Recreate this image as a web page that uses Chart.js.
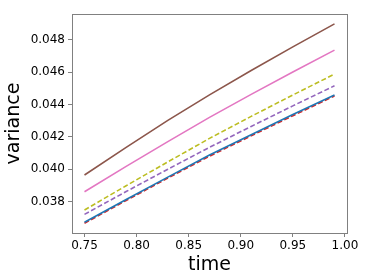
<!DOCTYPE html>
<html>
<head>
<meta charset="utf-8">
<script src="https://cdn.jsdelivr.net/npm/chart.js@4.4.0/dist/chart.umd.min.js"></script>
<style>
  body { margin: 0; background: #fff; }
</style>
</head>
<body>
<canvas id="chart" width="374" height="280"></canvas>
<script>
var times = [0.75, 0.79, 0.83, 0.87, 0.91, 0.95, 0.99];

var blueVals   = [0.03673, 0.03814, 0.03952, 0.04088, 0.04214, 0.04338, 0.04459];
var redVals    = [0.03667, 0.03808, 0.03946, 0.04081, 0.04207, 0.04331, 0.04453];
var purpleVals = [0.03722, 0.03863, 0.04001, 0.04136, 0.04265, 0.04392, 0.04516];
var oliveVals  = [0.03749, 0.03899, 0.04046, 0.04191, 0.04327, 0.04459, 0.04588];
var pinkVals   = [0.03862, 0.04018, 0.04171, 0.04321, 0.04463, 0.04601, 0.04736];
var brownVals  = [0.03965, 0.04136, 0.04302, 0.04460, 0.04610, 0.04756, 0.04898];

var xTicks = [0.75, 0.80, 0.85, 0.90, 0.95, 1.00];
var yTicks = [0.038, 0.040, 0.042, 0.044, 0.046, 0.048];

function pts(vals) {
  return vals.map(function (v, i) { return { x: times[i], y: v }; });
}

function line(vals, color, dashed, order) {
  return {
    data: pts(vals),
    borderColor: color,
    borderWidth: 1.6,
    borderDash: dashed ? [5, 2.5] : [],
    pointRadius: 0,
    fill: false,
    tension: 0,
    order: order
  };
}

// box round the plot area, like the matplotlib spines
var frame = {
  id: 'frame',
  afterDraw: function (chart) {
    var a = chart.chartArea, ctx = chart.ctx;
    ctx.save();
    ctx.strokeStyle = '#808080';
    ctx.lineWidth = 1;
    ctx.strokeRect(Math.round(a.left) + 0.5, Math.round(a.top) + 0.5,
      Math.round(a.right - a.left), Math.round(a.bottom - a.top));
    ctx.restore();
  }
};

var tickFont = { family: 'DejaVu Sans', size: 12 };
var titleFont = { family: 'DejaVu Sans', size: 19, lineHeight: 1.2 };

new Chart(document.getElementById('chart').getContext('2d'), {
  type: 'line',
  data: {
    datasets: [
      line(redVals, '#d62728', true, 2),
      line(blueVals, '#1f77b4', false, 1),
      line(purpleVals, '#9467bd', true, 3),
      line(brownVals, '#8c564b', false, 4),
      line(pinkVals, '#e377c2', false, 5),
      line(oliveVals, '#bcbd22', true, 6)
    ]
  },
  options: {
    responsive: false,
    animation: false,
    layout: { padding: { top: 14, right: 27, left: 0, bottom: 0 } },
    plugins: { legend: { display: false }, tooltip: { enabled: false } },
    scales: {
      x: {
        type: 'linear',
        min: 0.738,
        max: 1.002,
        afterBuildTicks: function (s) { s.ticks = xTicks.map(function (v) { return { value: v }; }); },
        afterFit: function (s) { s.height = 47; },
        ticks: {
          color: '#000',
          font: tickFont,
          padding: 2,
          maxRotation: 0,
          callback: function (v) { return v.toFixed(2); }
        },
        grid: { drawOnChartArea: false, drawTicks: true, tickLength: 4, color: '#808080' },
        border: { display: false },
        title: { display: true, text: 'time', color: '#000', font: titleFont, padding: { top: 0, bottom: 4 } }
      },
      y: {
        type: 'linear',
        min: 0.03607,
        max: 0.04959,
        afterBuildTicks: function (s) { s.ticks = yTicks.map(function (v) { return { value: v }; }); },
        afterFit: function (s) { s.width = 72; },
        ticks: {
          color: '#000',
          font: tickFont,
          padding: 3,
          callback: function (v) { return v.toFixed(3); }
        },
        grid: { drawOnChartArea: false, drawTicks: true, tickLength: 4, color: '#808080' },
        border: { display: false },
        title: { display: true, text: 'variance', color: '#000', font: titleFont, padding: { top: 3, bottom: 0 } }
      }
    }
  },
  plugins: [frame]
});
</script>
</body>
</html>
